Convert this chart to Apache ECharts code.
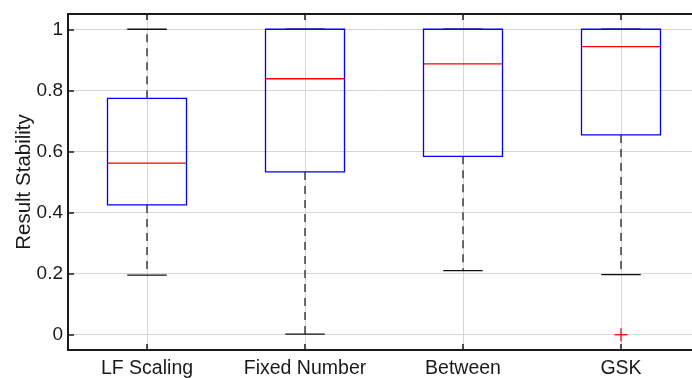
<!DOCTYPE html>
<html><head><meta charset="utf-8">
<script src="https://cdn.jsdelivr.net/npm/echarts@6/dist/echarts.min.js"></script>
<style>html,body{margin:0;padding:0;background:#fff}#c{width:692px;height:378px}</style>
</head><body><div id="c"></div>
<script>
const categories = ['LF Scaling', 'Fixed Number', 'Between', 'GSK'];
const lowerWhisker = [0.195, 0.002, 0.210, 0.197];
const q1 = [0.425, 0.533, 0.584, 0.654];
const median = [0.562, 0.838, 0.887, 0.943];
const q3 = [0.774, 1.0, 1.0, 1.0];
const upperWhisker = [1.0, 1.0, 1.0, 1.0];
const outlierCategory = [3];
const outlierValue = [0.0];
const yTicks = [0, 0.2, 0.4, 0.6, 0.8, 1];
const xTicks = [1, 2, 3, 4];

const boxData = categories.map((c, i) => [i + 1, lowerWhisker[i], q1[i], median[i], q3[i], upperWhisker[i]]);
const outlierData = outlierCategory.map((c, i) => [c + 1, outlierValue[i]]);

const FONT = '"Liberation Sans", Arial, Helvetica, sans-serif';
const AX = '#1a1a1a';
const chart = echarts.init(document.getElementById('c'), null, {renderer: 'canvas'});

function boxRender(params, api) {
  const x = api.value(0);
  const band = api.size([1, 0])[0];
  const hw = band * 0.25, cw = band * 0.125;
  const pLo = api.coord([x, api.value(1)]);
  const pQ1 = api.coord([x, api.value(2)]);
  const pMed = api.coord([x, api.value(3)]);
  const pQ3 = api.coord([x, api.value(4)]);
  const pHi = api.coord([x, api.value(5)]);
  const cx = pQ1[0];
  const dash = {stroke: '#111', lineWidth: 1.2, lineDash: [8, 6]};
  const solid = {stroke: '#111', lineWidth: 1.3};
  return {type: 'group', children: [
    {type: 'line', shape: {x1: cx, y1: pQ3[1], x2: cx, y2: pHi[1]}, style: dash},
    {type: 'line', shape: {x1: cx, y1: pQ1[1], x2: cx, y2: pLo[1]}, style: dash},
    {type: 'line', shape: {x1: cx - cw, y1: pHi[1], x2: cx + cw, y2: pHi[1]}, style: solid},
    {type: 'line', shape: {x1: cx - cw, y1: pLo[1], x2: cx + cw, y2: pLo[1]}, style: solid},
    {type: 'rect', shape: {x: cx - hw, y: pQ3[1], width: 2 * hw, height: pQ1[1] - pQ3[1]},
      style: {stroke: '#0000ff', fill: null, lineWidth: 1.3}},
    {type: 'line', shape: {x1: cx - hw, y1: pMed[1], x2: cx + hw, y2: pMed[1]},
      style: {stroke: '#ff0000', lineWidth: 1.3}}
  ]};
}

function outlierRender(params, api) {
  const p = api.coord([api.value(0), api.value(1)]);
  const s = 6.5;
  const st = {stroke: '#ff0000', lineWidth: 1.3};
  return {type: 'group', children: [
    {type: 'line', shape: {x1: p[0] - s, y1: p[1], x2: p[0] + s, y2: p[1]}, style: st},
    {type: 'line', shape: {x1: p[0], y1: p[1] - s, x2: p[0], y2: p[1] + s}, style: st}
  ]};
}

const gridLine = {show: true, lineStyle: {color: '#d6d6d6', width: 1}};

chart.setOption({
  animation: false,
  backgroundColor: '#fff',
  grid: {left: 68, right: -8, top: 14, bottom: 28, containLabel: false, outerBoundsMode: 'none'},
  xAxis: [{
    type: 'value', min: 0.5, max: 4.5, position: 'bottom',
    axisLine: {show: true, onZero: false, lineStyle: {color: AX, width: 2}},
    axisTick: {show: true, inside: true, length: 6, customValues: xTicks, lineStyle: {color: AX, width: 1.5}},
    axisLabel: {customValues: xTicks, formatter: v => categories[Math.round(v) - 1], fontSize: 19.5,
      color: AX, fontFamily: FONT, margin: 9},
    splitLine: gridLine
  }, {
    type: 'value', min: 0.5, max: 4.5, position: 'top',
    axisLine: {show: true, onZero: false, lineStyle: {color: AX, width: 2}},
    axisTick: {show: true, inside: true, length: 6, customValues: xTicks, lineStyle: {color: AX, width: 1.5}},
    axisLabel: {show: false},
    splitLine: {show: false}
  }],
  yAxis: [{
    type: 'value', min: -0.05, max: 1.05,
    name: 'Result Stability', nameLocation: 'middle', nameGap: 33, nameMoveOverlap: false,
    nameTextStyle: {fontSize: 20.5, color: AX, fontFamily: FONT},
    axisLine: {show: true, onZero: false, lineStyle: {color: AX, width: 2}},
    axisTick: {show: true, inside: true, length: 6, customValues: yTicks, lineStyle: {color: AX, width: 1.5}},
    axisLabel: {customValues: yTicks, fontSize: 19, color: AX, fontFamily: FONT, margin: 5},
    splitLine: gridLine
  }],
  series: [{
    type: 'custom', renderItem: boxRender, data: boxData, clip: false,
    encode: {x: 0, y: [1, 2, 3, 4, 5]}, z: 3
  }, {
    type: 'custom', renderItem: outlierRender, data: outlierData, clip: false,
    encode: {x: 0, y: 1}, z: 4
  }]
});
</script></body></html>
